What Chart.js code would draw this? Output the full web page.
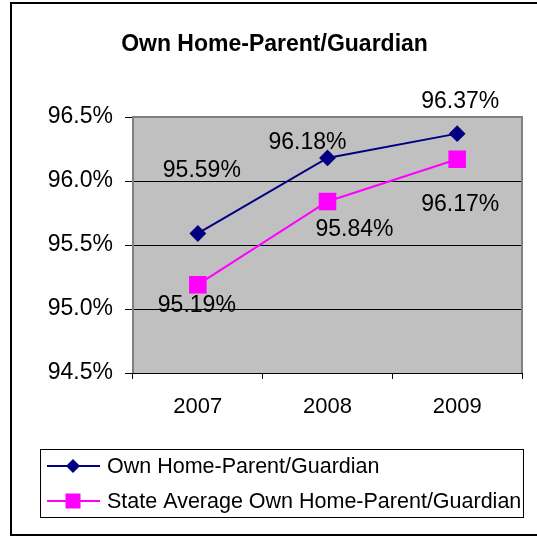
<!DOCTYPE html>
<html>
<head>
<meta charset="utf-8">
<script src="https://cdn.jsdelivr.net/npm/chart.js@4/dist/chart.umd.min.js"></script>
<style>
html,body{margin:0;padding:0;background:#fff;}
#wrap{position:absolute;left:0;top:0;width:537px;height:537px;}
</style>
</head>
<body>
<div id="wrap"><canvas id="c" width="537" height="537"></canvas></div>
<script>
const chartTitle = 'Own Home-Parent/Guardian';
const categories = ['2007', '2008', '2009'];
const seriesNames = ['Own Home-Parent/Guardian', 'State Average Own Home-Parent/Guardian'];
const ownHome = [95.59, 96.18, 96.37];
const stateAverage = [95.19, 95.84, 96.17];
const yTicks = [94.5, 95.0, 95.5, 96.0, 96.5];

// label placement offsets (pixels from the point), per series / per category
const labelOffsets = [
  [[4, -63], [-20, -15], [3, -32]],
  [[-1, 21], [27, 28], [3, 45]]
];

const FONT = '"Liberation Sans", Arial, sans-serif';

const decorPlugin = {
  id: 'decor',
  beforeDraw(chart) {
    const ctx = chart.ctx, a = chart.chartArea;
    ctx.save();
    ctx.fillStyle = '#fff';
    ctx.fillRect(0, 0, chart.width, chart.height);
    ctx.fillStyle = '#C0C0C0';
    ctx.fillRect(a.left, a.top, a.right - a.left, a.bottom - a.top);
    // outer border
    ctx.strokeStyle = '#000';
    ctx.lineWidth = 2;
    ctx.strokeRect(11, 3, 540, 532);
    // title
    ctx.fillStyle = '#000';
    ctx.font = 'bold 23px ' + FONT;
    ctx.textAlign = 'center';
    ctx.textBaseline = 'middle';
    ctx.fillText(chartTitle, 274.5, 45);
    ctx.restore();
  },
  beforeDatasetsDraw(chart) {
    const ctx = chart.ctx, a = chart.chartArea;
    ctx.save();
    ctx.strokeStyle = '#808080';
    ctx.lineWidth = 2;
    ctx.beginPath();
    ctx.moveTo(a.left, a.bottom);
    ctx.lineTo(a.left, a.top);
    ctx.lineTo(a.right, a.top);
    ctx.lineTo(a.right, a.bottom);
    ctx.stroke();
    ctx.strokeStyle = '#000';
    ctx.lineWidth = 1;
    ctx.beginPath();
    ctx.moveTo(a.left - 8, Math.round(a.bottom) + 0.5);
    ctx.lineTo(a.right, Math.round(a.bottom) + 0.5);
    ctx.stroke();
    ctx.restore();
  },
  afterDatasetsDraw(chart) {
    const ctx = chart.ctx;
    ctx.save();
    ctx.fillStyle = '#000';
    ctx.font = '23px ' + FONT;
    ctx.textAlign = 'center';
    ctx.textBaseline = 'middle';
    chart.data.datasets.forEach((ds, i) => {
      const meta = chart.getDatasetMeta(i);
      meta.data.forEach((pt, j) => {
        const off = labelOffsets[i][j];
        ctx.fillText(ds.data[j].toFixed(2) + '%', pt.x + off[0], pt.y + off[1]);
      });
    });
    // legend
    const lx = 40, ly = 449, lw = 483, lh = 68;
    ctx.strokeStyle = '#000';
    ctx.lineWidth = 1;
    ctx.strokeRect(lx + 0.5, ly + 0.5, lw, lh);
    const rows = [466, 501];
    ctx.font = '21.5px ' + FONT;
    ctx.textAlign = 'left';
    chart.data.datasets.forEach((ds, i) => {
      const y = rows[i];
      ctx.strokeStyle = ds.borderColor;
      ctx.lineWidth = 2;
      ctx.beginPath();
      ctx.moveTo(47, y);
      ctx.lineTo(100, y);
      ctx.stroke();
      ctx.fillStyle = ds.borderColor;
      ctx.beginPath();
      if (ds.pointStyle === 'rectRot') {
        const r = 7;
        ctx.moveTo(73 - r, y); ctx.lineTo(73, y - r); ctx.lineTo(73 + r, y); ctx.lineTo(73, y + r);
        ctx.closePath();
        ctx.fill();
      } else {
        ctx.fillRect(73 - 7.5, y - 7.5, 15, 15);
      }
      ctx.fillStyle = '#000';
      ctx.textBaseline = 'middle';
      ctx.fillText(seriesNames[i], 107, y + 1);
    });
    ctx.restore();
  }
};

new Chart(document.getElementById('c'), {
  type: 'line',
  data: {
    labels: categories,
    datasets: [
      {
        label: seriesNames[0],
        data: ownHome,
        borderColor: '#000080',
        backgroundColor: '#000080',
        borderWidth: 2,
        pointStyle: 'rectRot',
        pointRadius: 7,
        pointHoverRadius: 7,
        tension: 0
      },
      {
        label: seriesNames[1],
        data: stateAverage,
        borderColor: '#FF00FF',
        backgroundColor: '#FF00FF',
        borderWidth: 2,
        pointStyle: 'rect',
        pointRadius: 11,
        pointHoverRadius: 11,
        tension: 0
      }
    ]
  },
  options: {
    responsive: false,
    animation: false,
    devicePixelRatio: 1,
    layout: { padding: { left: 11, right: 15, top: 117, bottom: 100 } },
    plugins: {
      legend: { display: false },
      title: { display: false },
      tooltip: { enabled: false }
    },
    scales: {
      x: {
        type: 'category',
        offset: true,
        grid: { offset: true, drawOnChartArea: false, drawTicks: true, tickLength: 6, color: '#000' },
        border: { display: false },
        ticks: { color: '#000', font: { family: FONT, size: 22 }, padding: 15, maxRotation: 0 },
        afterFit(scale) { scale.height = 64; }
      },
      y: {
        min: 94.5,
        max: 96.5,
        afterBuildTicks(scale) { scale.ticks = yTicks.map(v => ({ value: v })); },
        grid: { color: '#000', lineWidth: 1, tickLength: 8 },
        border: { display: false },
        ticks: {
          color: '#000',
          font: { family: FONT, size: 23 },
          padding: 12,
          callback: (v) => Number(v).toFixed(1) + '%'
        },
        afterFit(scale) { scale.width = 122; }
      }
    }
  },
  plugins: [decorPlugin]
});
</script>
</body>
</html>
